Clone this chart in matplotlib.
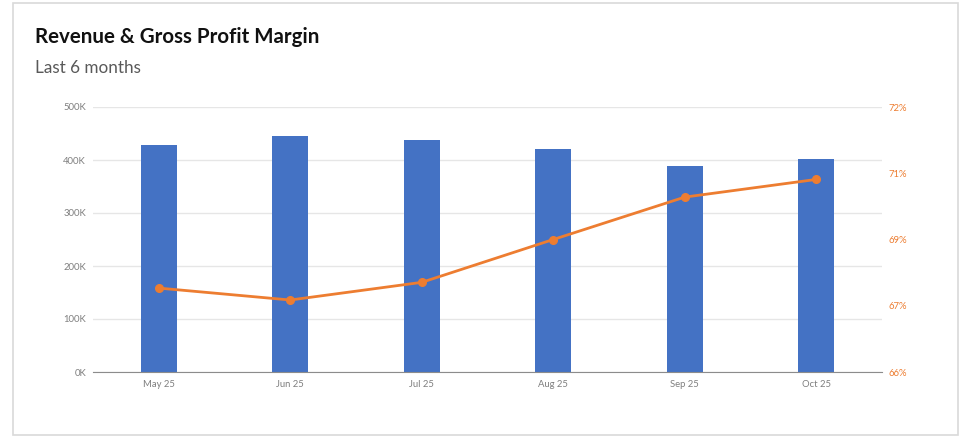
import matplotlib.pyplot as plt
from matplotlib.patches import Rectangle

months = ['May 25', 'Jun 25', 'Jul 25', 'Aug 25', 'Sep 25', 'Oct 25']
revenue = [428000, 445000, 438000, 421000, 389000, 402000]
margin = [67.9, 67.63, 68.03, 69.0, 69.96, 70.36]

rev_ticks = [0, 100000, 200000, 300000, 400000, 500000]
rev_labels = ['0K', '100K', '200K', '300K', '400K', '500K']
pct_ticks = [66, 67.5, 69, 70.5, 72]
pct_labels = ['66%', '67%', '69%', '71%', '72%']

blue = '#4472C4'
orange = '#ED7D31'

plt.rcParams['font.family'] = ['Lato', 'DejaVu Sans']

fig = plt.figure(figsize=(9.59, 4.36), dpi=100)
fig.patches.append(Rectangle((13 / 959, 1 / 436), 945 / 959, 432 / 436,
                             transform=fig.transFigure, fill=False,
                             edgecolor='#d9d9d9', linewidth=1.2))

fig.text(35 / 959, 1 - 37 / 436, 'Revenue & Gross Profit Margin',
         fontsize=14.8, fontweight='bold', color='#111111', va='center')
fig.text(35 / 959, 1 - 68 / 436, 'Last 6 months',
         fontsize=12.3, color='#595959', va='center')

ax = fig.add_axes([93 / 959, 64 / 436, 789 / 959, 265 / 436])
x = range(len(months))
ax.bar(x, revenue, width=0.27, color=blue, zorder=2)
ax.set_xlim(-0.5, len(months) - 0.5)
ax.set_ylim(0, 500000)
ax.set_yticks(rev_ticks)
ax.set_yticklabels(rev_labels)
ax.set_xticks(list(x))
ax.set_xticklabels(months)
ax.grid(axis='y', color='#e6e6e6', linewidth=1, zorder=0)
for s in ['top', 'left', 'right']:
    ax.spines[s].set_visible(False)
ax.spines['bottom'].set_color('#8c8c8c')
ax.tick_params(axis='both', length=0, labelsize=6.8, labelcolor='#7f7f7f')
ax.tick_params(axis='y', pad=5)
ax.tick_params(axis='x', pad=6)

ax2 = ax.twinx()
ax2.plot(list(x), margin, color=orange, linewidth=2, marker='o',
         markersize=5.5, zorder=3)
ax2.set_ylim(66, 72)
ax2.set_yticks(pct_ticks)
ax2.set_yticklabels(pct_labels)
ax2.tick_params(axis='y', length=0, labelsize=6.8, labelcolor=orange, pad=5)
for s in ['top', 'left', 'right', 'bottom']:
    ax2.spines[s].set_visible(False)

fig.savefig('out.png', dpi=100)
